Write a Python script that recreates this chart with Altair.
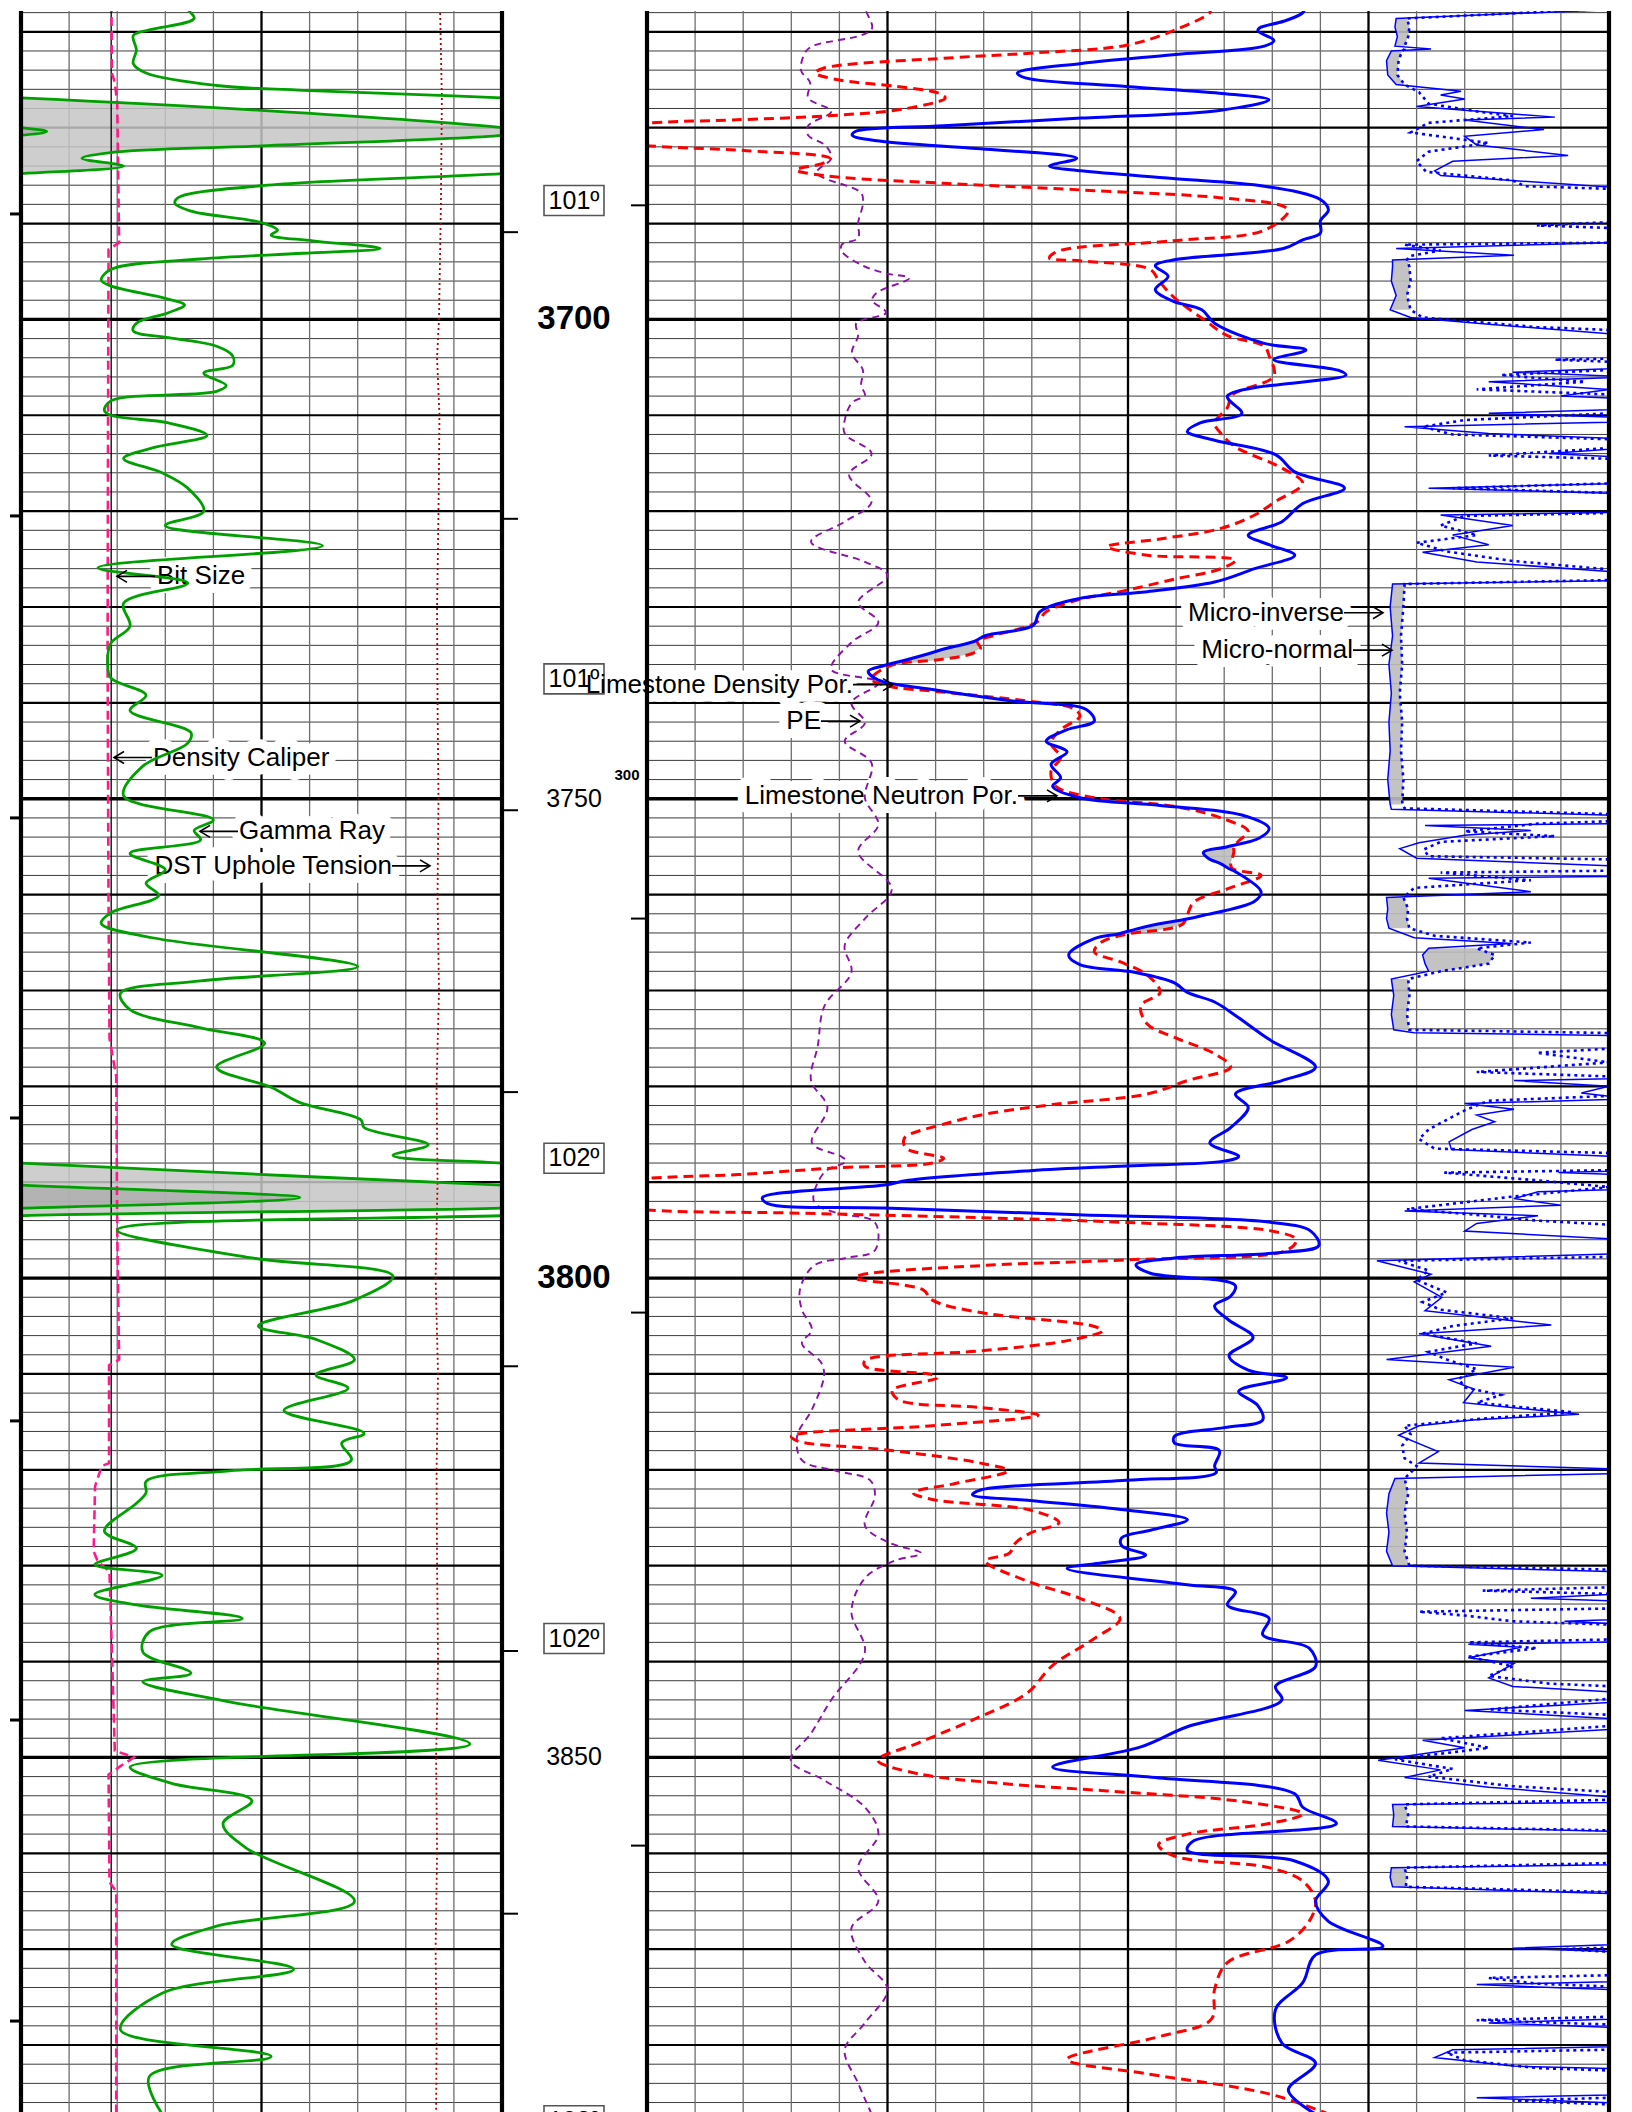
import altair as alt
import pandas as pd

FONT = "Liberation Sans"
DEPTH_TOP, DEPTH_BOT = 3667.83, 3887.3
PLOT_H = 2104
W_LEFT, W_DEPTH, W_RIGHT = 481, 145, 962

# ---------------- curve scales (track units) ----------------
GR_SCALE = [0, 150]        # API
CAL_SCALE = [6, 16]        # inches
TEN_SCALE = [0, 100]       # klb
POR_SCALE = [45, -15]      # limestone porosity %
PE_SCALE = [0, 20]         # b/e (0-10 over first half)
MIC_SCALE = [-60, 20]      # ohm-m (0-20 over last quarter)

# ---------------- data: (depth ft, value) ----------------
GR = [(3667.0, 64), (3667.5, 52), (3668.6, 54), (3669.8, 40), (3670.4, 35), (3671.9, 36), (3673.3, 35),
      (3674.3, 39), (3675.6, 61), (3676.1, 88), (3676.9, 150), (3678.2, 225), (3680.0, 300), (3680.4, 308),
      (3680.8, 300), (3681.9, 225), (3682.6, 178), (3683.2, 169), (3684.0, 182), (3684.8, 150), (3686.0, 77),
      (3687.3, 49), (3687.9, 48), (3688.7, 53), (3689.9, 75), (3690.7, 80), (3691.2, 78), (3691.8, 91),
      (3692.6, 112), (3693.1, 88), (3693.7, 56), (3694.8, 28), (3695.9, 25), (3696.5, 28), (3697.8, 45),
      (3698.5, 51), (3699.3, 46), (3700.4, 36), (3701.2, 35), (3701.9, 46), (3702.8, 61), (3703.8, 66),
      (3704.8, 66), (3705.6, 57), (3706.9, 64), (3707.5, 61), (3708.5, 28), (3709.5, 26), (3710.0, 28),
      (3710.8, 46), (3712.1, 58), (3713.4, 41), (3714.5, 32), (3716.0, 44), (3717.6, 52), (3720.0, 57),
      (3721.5, 45), (3723.6, 94), (3725.9, 24), (3727.5, 52), (3729.6, 32), (3732.0, 34), (3733.8, 28),
      (3735.8, 27), (3737.4, 28), (3739.2, 39), (3740.8, 34), (3743.1, 53), (3744.2, 52), (3746.6, 38),
      (3749.7, 32), (3752.2, 60), (3753.3, 54), (3754.3, 56), (3755.7, 34), (3757.4, 45), (3758.8, 39),
      (3760.1, 43), (3761.9, 28), (3763.0, 25), (3764.5, 41), (3767.5, 105), (3769.0, 56), (3770.3, 31),
      (3772.0, 34), (3773.9, 56), (3775.5, 76), (3778.0, 61), (3780.1, 78), (3781.7, 87), (3783.5, 106),
      (3784.3, 107), (3786.1, 127), (3787.2, 116), (3788.0, 150), (3790.3, 300), (3791.6, 387), (3792.7, 300),
      (3793.5, 150), (3795.0, 30), (3797.9, 72), (3799.8, 116), (3802.3, 104), (3805.0, 74), (3806.4, 92),
      (3808.5, 104), (3810.1, 92), (3811.5, 102), (3813.8, 82), (3816.2, 107), (3817.2, 100), (3819.0, 103),
      (3820.1, 65), (3821.2, 39), (3822.4, 39), (3823.5, 36), (3826.4, 26), (3828.2, 36), (3829.9, 23),
      (3831.0, 44), (3833.0, 23), (3834.1, 36), (3835.5, 69), (3836.9, 40), (3839.0, 38), (3841.2, 53),
      (3842.1, 38), (3844.2, 65), (3848.6, 140), (3851.0, 34), (3852.7, 47), (3854.5, 72), (3856.9, 63),
      (3859.4, 70), (3865.0, 104), (3867.6, 61), (3869.5, 47), (3872.1, 85), (3874.6, 44), (3878.4, 31),
      (3881.2, 78), (3883.3, 40), (3887.2, 44)]

CALIPER = [(3667.0, 7.88), (3674.3, 7.89), (3675.3, 7.95), (3677.4, 8.0), (3692.0, 8.04), (3692.7, 7.82),
           (3710.8, 7.81), (3735.0, 7.80), (3760.9, 7.82), (3775.0, 7.84), (3779.0, 7.98), (3794.6, 8.0),
           (3808.5, 8.04), (3809.1, 7.83), (3819.3, 7.83), (3819.6, 7.68), (3821.7, 7.54), (3828.5, 7.51),
           (3829.6, 7.6), (3830.6, 7.84), (3849.3, 7.95), (3850.0, 8.35), (3850.8, 8.1), (3851.8, 7.82),
           (3863.0, 7.84), (3864.0, 7.98), (3887.2, 7.98)]

BIT_SIZE = [(3667.0, 7.875), (3887.3, 7.875)]

TENSION = [(3667.0, 87.1), (3677.0, 87.5), (3688.0, 87.3), (3700.0, 86.9), (3704.0, 86.5), (3710.0, 87.0),
           (3720.0, 86.8), (3730.0, 86.5), (3740.0, 86.6), (3750.0, 86.8), (3760.0, 86.6), (3770.0, 86.9),
           (3780.0, 86.4), (3790.0, 86.6), (3800.0, 86.2), (3810.0, 86.7), (3820.0, 86.4), (3830.0, 86.5),
           (3840.0, 86.7), (3850.0, 86.3), (3860.0, 86.5), (3870.0, 86.2), (3880.0, 86.4), (3887.2, 86.3)]

PE = [(3667.0, 4.64), (3667.3, 4.53), (3669.6, 4.68), (3670.3, 4.49), (3671.4, 3.49), (3672.0, 3.31),
      (3674.0, 3.20), (3675.3, 3.39), (3676.9, 3.35), (3678.3, 3.83), (3679.8, 3.35), (3680.8, 3.35),
      (3681.9, 3.72), (3683.2, 3.83), (3684.7, 3.53), (3686.8, 4.45), (3687.9, 4.49), (3689.9, 4.39),
      (3691.5, 4.39), (3692.2, 4.05), (3692.9, 4.05), (3694.4, 4.49), (3695.2, 4.97), (3695.7, 5.45),
      (3697.2, 4.78), (3698.0, 4.68), (3699.3, 4.97), (3700.4, 4.35), (3701.7, 4.39), (3703.5, 4.26),
      (3705.3, 4.49), (3706.9, 4.45), (3707.9, 4.53), (3708.7, 4.26), (3710.3, 4.12), (3711.9, 4.11),
      (3714.0, 4.67), (3716.2, 4.20), (3719.0, 4.67), (3721.1, 4.11), (3723.2, 3.41), (3725.3, 4.53),
      (3726.7, 5.0), (3729.5, 4.39), (3731.6, 4.81), (3733.7, 4.25), (3736.5, 3.83), (3737.9, 4.81),
      (3740.0, 4.25), (3742.1, 4.53), (3744.0, 4.11), (3746.3, 4.67), (3749.9, 4.53), (3752.7, 4.81),
      (3755.5, 4.39), (3759.4, 5.09), (3762.5, 4.53), (3765.3, 4.11), (3768.1, 4.25), (3771.6, 3.69),
      (3775.8, 3.55), (3779.4, 3.41), (3782.2, 3.75), (3785.9, 3.43), (3787.3, 4.03), (3787.8, 4.14),
      (3789.0, 3.68), (3792.0, 3.47), (3793.2, 3.93), (3794.2, 4.74), (3797.1, 4.74), (3797.9, 4.14),
      (3798.7, 3.47), (3801.2, 3.18), (3803.3, 3.22), (3805.4, 3.43), (3806.8, 3.22), (3808.8, 3.62),
      (3810.2, 3.68), (3813.7, 3.43), (3816.5, 3.12), (3819.0, 3.22), (3820.1, 3.93), (3821.1, 4.64),
      (3822.7, 4.74), (3825.8, 4.53), (3827.6, 5.03), (3828.7, 5.70), (3829.5, 5.14), (3831.3, 4.53),
      (3834.8, 4.25), (3839.0, 4.53), (3844.0, 3.83), (3847.5, 3.41), (3850.3, 2.99), (3852.4, 3.69),
      (3855.2, 4.53), (3858.0, 4.81), (3861.5, 4.39), (3865.0, 4.81), (3867.8, 4.25), (3871.3, 4.53),
      (3874.2, 5.0), (3877.7, 4.53), (3880.5, 4.11), (3884.0, 4.39), (3887.2, 4.67)]

# neutron / density crossover patches: (patch, depth, neutron %, density %)
POR_PAIRS = [("A", 3733.6, 24.6, 24.4), ("A", 3734.3, 26.3, 24.2), ("A", 3734.9, 27.5, 24.8),
             ("A", 3735.5, 28.8, 26.8), ("A", 3736.1, 30.2, 29.8),
             ("B", 3755.0, 8.8, 8.4), ("B", 3755.6, 10.3, 8.4), ("B", 3756.2, 10.0, 8.5),
             ("B", 3756.8, 9.2, 8.6), ("B", 3757.3, 8.7, 8.5),
             ("C", 3762.6, 11.5, 11.4), ("C", 3763.1, 13.2, 11.6), ("C", 3763.6, 14.5, 12.6),
             ("C", 3764.1, 15.6, 15.0)]

NPHI = [(3667.0, 3.9), (3668.0, 4.1), (3668.9, 5.3), (3669.6, 6.8), (3669.9, 6.9), (3670.9, 5.9), (3671.5, 6.5),
        (3672.4, 12.2), (3673.3, 17.9), (3674.3, 21.9), (3674.8, 21.4), (3675.7, 15.1), (3676.4, 9.3),
        (3677.1, 6.2), (3678.2, 9.3), (3679.0, 17.9), (3679.8, 26.5), (3680.4, 32.0), (3680.8, 32.2),
        (3681.4, 30.5), (3682.1, 25.1), (3683.2, 18.2), (3684.0, 19.9), (3684.5, 17.9), (3685.3, 12.2),
        (3686.1, 6.5), (3687.5, 3.0), (3688.6, 2.5), (3689.7, 3.0), (3691.0, 3.0), (3691.7, 4.1), (3692.6, 5.3),
        (3693.8, 12.2), (3694.4, 13.3), (3695.5, 12.5), (3696.9, 13.3), (3698.1, 12.2), (3699.0, 10.4),
        (3700.4, 9.6), (3702.5, 6.5), (3703.2, 3.9), (3704.2, 5.9), (3705.3, 1.9), (3705.8, 1.4), (3708.0, 8.8),
        (3709.8, 7.9), (3710.8, 10.5), (3711.7, 11.3), (3712.6, 9.6), (3714.1, 5.8), (3715.9, 4.6),
        (3717.6, 1.5), (3719.2, 4.1), (3721.1, 5.4), (3722.5, 7.5), (3723.5, 6.2), (3724.6, 4.6), (3726.0, 7.1),
        (3727.4, 9.6), (3728.4, 13.8), (3729.1, 18.0), (3730.5, 20.5), (3731.9, 20.9), (3733.0, 23.9),
        (3736.7, 31.2), (3737.6, 30.6), (3738.6, 27.2), (3739.8, 22.2), (3740.7, 17.6), (3741.9, 17.1),
        (3742.8, 18.8), (3744.0, 20.1), (3745.1, 18.8), (3746.4, 19.8), (3747.8, 19.2), (3748.7, 19.7),
        (3749.9, 18.0), (3750.7, 13.0), (3751.7, 7.9), (3753.1, 6.2), (3754.1, 6.8), (3757.6, 8.3),
        (3759.7, 6.7), (3760.7, 7.1), (3762.2, 10.4), (3764.6, 17.1), (3766.3, 18.7), (3767.3, 18.0),
        (3768.1, 14.6), (3769.2, 12.1), (3770.2, 11.3), (3771.2, 9.6), (3772.6, 8.3), (3775.1, 6.2),
        (3778.0, 3.3), (3779.4, 5.4), (3780.8, 8.3), (3782.2, 7.5), (3784.3, 8.6), (3785.9, 9.9), (3787.3, 8.1),
        (3787.8, 9.0), (3788.3, 15.1), (3788.8, 21.1), (3789.8, 28.7), (3790.3, 30.2), (3791.6, 37.8),
        (3792.2, 37.5), (3792.7, 30.2), (3793.4, 18.1), (3794.2, 6.0), (3795.1, 3.6), (3796.6, 3.1),
        (3797.4, 6.0), (3797.9, 12.1), (3798.6, 14.5), (3799.5, 13.6), (3800.3, 9.0), (3800.8, 8.3),
        (3801.9, 8.6), (3802.9, 9.6), (3804.4, 8.7), (3806.2, 7.2), (3808.1, 8.7), (3809.6, 7.5), (3810.4, 5.1),
        (3811.8, 8.1), (3813.3, 6.9), (3814.8, 6.6), (3815.6, 9.0), (3816.5, 12.1), (3817.2, 12.1),
        (3818.0, 9.3), (3819.6, 9.6), (3820.3, 9.5), (3821.1, 15.1), (3822.1, 24.2), (3822.6, 24.7),
        (3823.2, 21.1), (3824.2, 15.1), (3825.2, 11.3), (3826.3, 13.6), (3827.1, 15.4), (3827.9, 15.4),
        (3828.9, 13.9), (3829.7, 16.6), (3830.3, 18.8), (3832.0, 11.3), (3832.7, 8.3), (3834.1, 8.8),
        (3835.5, 6.2), (3837.2, 6.6), (3838.6, 3.7), (3840.5, 3.3), (3842.6, 5.8), (3844.0, 5.4),
        (3846.8, 11.3), (3848.9, 14.2), (3851.0, 19.7), (3852.1, 13.3), (3853.8, 4.6), (3855.2, 4.1),
        (3856.9, 2.0), (3858.7, 10.9), (3859.7, 11.3), (3860.8, 4.6), (3862.9, 2.5), (3865.0, 3.3),
        (3867.1, 2.5), (3869.7, -0.9), (3870.6, 3.3), (3873.5, 4.1), (3876.3, 5.8), (3879.8, 5.4),
        (3881.9, 3.3), (3884.7, 5.0), (3887.2, 3.3)]

DPHI = [(3667.0, 14.2), (3667.7, 9.9), (3668.0, 9.9), (3669.9, 12.2), (3671.4, 15.1), (3672.2, 20.8),
        (3672.7, 25.9), (3673.8, 34.0), (3674.3, 34.5), (3675.0, 33.1), (3675.7, 29.4), (3676.4, 26.8),
        (3676.9, 26.4), (3678.0, 28.8), (3678.7, 33.1), (3679.2, 39.7), (3679.5, 44.8), (3680.7, 52.0),
        (3681.9, 44.8), (3682.4, 38.8), (3683.2, 33.6), (3683.7, 34.0), (3684.4, 35.7), (3685.0, 34.0),
        (3685.8, 26.5), (3686.5, 17.9), (3687.3, 9.3), (3688.2, 5.3), (3688.7, 5.0), (3690.7, 6.5),
        (3691.8, 12.2), (3692.9, 19.4), (3693.6, 19.9), (3693.9, 17.9), (3694.8, 13.6), (3695.9, 13.1),
        (3697.6, 12.2), (3700.1, 10.2), (3701.7, 8.8), (3702.8, 6.5), (3703.8, 6.2), (3705.9, 5.9),
        (3707.9, 8.5), (3709.2, 8.8), (3710.8, 9.6), (3711.9, 9.2), (3713.3, 8.3), (3715.5, 5.4), (3717.1, 4.1),
        (3719.0, 5.8), (3720.4, 7.1), (3721.8, 9.2), (3722.9, 13.0), (3723.7, 16.3), (3724.6, 13.8),
        (3725.1, 8.3), (3726.0, 9.2), (3727.1, 12.1), (3728.4, 15.5), (3729.2, 18.0), (3730.5, 20.1),
        (3731.6, 20.7), (3733.0, 23.4), (3737.5, 31.0), (3738.2, 30.1), (3738.9, 26.4), (3739.8, 21.3),
        (3740.6, 18.4), (3741.4, 18.0), (3742.8, 19.2), (3744.2, 19.8), (3745.7, 19.2), (3747.1, 19.8),
        (3748.7, 19.5), (3749.9, 17.1), (3750.8, 12.1), (3752.0, 9.2), (3753.4, 7.5), (3754.4, 8.1),
        (3758.0, 6.7), (3759.4, 8.8), (3760.8, 10.9), (3765.0, 16.7), (3766.0, 17.1), (3767.0, 15.5),
        (3768.4, 13.8), (3770.2, 13.0), (3771.6, 14.2), (3773.5, 13.8), (3774.9, 12.1), (3776.6, 9.6),
        (3778.0, 8.6), (3779.4, 11.3), (3780.8, 13.8), (3781.9, 19.7), (3782.9, 23.9), (3783.9, 26.4),
        (3785.3, 28.9), (3785.9, 29.0), (3786.6, 28.7), (3787.5, 26.5), (3788.0, 27.2), (3788.5, 33.2),
        (3789.2, 39.3), (3789.6, 45.0), (3791.2, 55.0), (3792.9, 45.0), (3793.2, 36.3), (3793.7, 24.2),
        (3794.2, 15.1), (3795.1, 6.0), (3796.0, 4.5), (3797.1, 5.1), (3798.1, 15.1), (3798.7, 24.2),
        (3799.7, 31.7), (3800.0, 32.0), (3801.2, 27.8), (3802.3, 27.2), (3803.6, 24.2), (3805.0, 17.2),
        (3805.5, 16.6), (3806.5, 18.7), (3807.6, 24.2), (3808.6, 31.4), (3809.2, 31.4), (3810.1, 27.2),
        (3810.4, 26.9), (3811.7, 29.7), (3812.7, 29.3), (3813.5, 24.2), (3814.3, 20.6), (3815.4, 27.2),
        (3816.5, 36.0), (3817.0, 35.6), (3817.9, 30.2), (3819.3, 24.2), (3820.1, 22.5), (3821.4, 25.7),
        (3822.4, 28.4), (3823.1, 27.2), (3824.2, 21.1), (3825.5, 19.3), (3826.6, 21.1), (3827.6, 22.0),
        (3828.7, 22.4), (3829.5, 23.9), (3831.6, 21.3), (3833.4, 18.0), (3835.5, 15.5), (3837.6, 17.1),
        (3840.4, 19.7), (3843.3, 21.3), (3846.1, 24.7), (3848.5, 28.1), (3850.3, 30.6), (3851.7, 28.1),
        (3852.7, 23.0), (3853.5, 16.3), (3854.6, 7.9), (3855.9, 4.1), (3856.9, 6.2), (3858.0, 11.3),
        (3859.1, 13.1), (3860.3, 12.1), (3861.5, 6.2), (3862.9, 4.1), (3865.0, 3.3), (3867.1, 3.7),
        (3869.2, 5.0), (3871.4, 8.8), (3874.2, 9.6), (3877.3, 9.8), (3879.1, 13.0), (3881.5, 18.8),
        (3883.0, 13.8), (3885.1, 6.2), (3887.2, 2.5)]

# microlog mudcake zones: (zone, depth, micro-inverse, micro-normal)
MICRO_PAIRS = [(1, 3668.6, 2.3, 3.2), (1, 3669.5, 2.2, 3.4), (1, 3670.5, 2.4, 3.3), (1, 3671.5, 2.2, 3.0),
               (2, 3672.0, 1.9, 2.8), (2, 3673.0, 1.5, 2.5), (2, 3674.5, 1.6, 2.4), (2, 3675.5, 2.3, 3.0),
               (3, 3693.8, 2.0, 3.2), (3, 3694.5, 2.0, 3.4), (3, 3696.0, 1.9, 3.5), (3, 3697.5, 2.3, 3.2),
               (3, 3699.0, 1.8, 3.5),
               (4, 3727.6, 2.0, 3.0), (4, 3730.0, 1.8, 2.9), (4, 3733.0, 2.0, 2.7), (4, 3736.0, 1.7, 2.8),
               (4, 3739.0, 1.9, 2.6), (4, 3742.0, 1.7, 2.8), (4, 3745.0, 1.8, 2.7), (4, 3748.0, 1.6, 2.9),
               (4, 3750.6, 1.8, 2.8),
               (5, 3760.3, 1.5, 2.9), (5, 3761.5, 1.6, 3.3), (5, 3762.5, 1.5, 3.2), (5, 3763.5, 1.7, 3.4),
               (6, 3765.6, 5.0, 9.0), (6, 3766.3, 4.5, 10.5), (6, 3767.2, 4.7, 10.0), (6, 3768.0, 5.0, 6.0),
               (7, 3768.8, 1.9, 3.3), (7, 3770.5, 2.1, 3.4), (7, 3772.5, 1.9, 3.2), (7, 3774.1, 2.1, 3.4),
               (8, 3820.9, 2.2, 3.0), (8, 3822.5, 1.7, 3.3), (8, 3824.5, 1.5, 3.0), (8, 3826.5, 1.7, 3.2),
               (8, 3828.5, 1.5, 3.0), (8, 3830.0, 2.0, 3.4),
               (9, 3854.9, 2.0, 3.0), (9, 3856.0, 2.1, 3.3), (9, 3857.2, 2.0, 3.1),
               (10, 3861.5, 1.9, 3.0), (10, 3862.5, 1.8, 3.2), (10, 3863.5, 2.0, 3.1)]

MINV = [(3667.0, 25), (3667.7, 20), (3671.8, 5.2), (3676.2, 7.7), (3676.6, 6.0), (3677.0, 8.0), (3677.8, 4.0),
        (3678.9, 15.5), (3679.2, 8.0), (3680.2, 14.6), (3680.9, 8.0), (3681.8, 9.0), (3682.9, 16.6),
        (3683.5, 7.0), (3684.5, 5.5), (3685.0, 6.0), (3686.2, 20), (3686.6, 28), (3691.6, 28), (3692.0, 20),
        (3692.6, 2.3), (3693.3, 12.1), (3699.8, 3.5), (3700.5, 10), (3701.5, 20), (3702.0, 28), (3704.8, 28),
        (3705.5, 12), (3706.0, 22), (3706.5, 10), (3707.3, 20), (3708.0, 16), (3708.6, 28), (3709.1, 28),
        (3709.8, 10), (3710.5, 28), (3711.2, 3.0), (3711.9, 10), (3712.8, 28), (3714.0, 15), (3714.8, 28),
        (3716.9, 28), (3717.6, 5), (3718.4, 28), (3720.0, 28), (3720.4, 6), (3721.5, 12), (3722.5, 7),
        (3723.5, 10), (3724.3, 4.5), (3725.3, 9), (3726.3, 20), (3727.1, 28),
        (3751.1, 1.9), (3751.7, 19.6), (3752.0, 28), (3752.5, 28), (3752.8, 4.7), (3753.3, 13.5),
        (3753.8, 8.0), (3754.6, 4.2), (3755.2, 2.6), (3756.2, 4.0), (3757.0, 20), (3757.6, 28), (3758.1, 20),
        (3758.3, 5.0), (3759.7, 13.5), (3764.5, 3.8), (3765.1, 11.9),
        (3774.4, 3.8), (3774.7, 20), (3775.0, 28), (3779.0, 28), (3779.4, 12.1), (3780.0, 20), (3780.7, 17.7),
        (3781.3, 22), (3781.8, 8.0), (3782.4, 12.1), (3783.0, 9.0), (3783.7, 10.5), (3784.5, 8.6),
        (3785.8, 6.7), (3786.6, 6.9), (3787.3, 20), (3787.6, 28), (3788.6, 28), (3789.0, 15.8), (3789.5, 28),
        (3790.5, 28), (3791.0, 14.1), (3791.7, 12.1), (3792.4, 16), (3793.0, 3.0), (3793.5, 14.1),
        (3794.3, 9.0), (3795.1, 8.0), (3795.9, 20), (3796.2, 28), (3797.3, 28), (3797.5, 20), (3798.2, 0.7),
        (3799.6, 5.2), (3800.4, 3.8), (3802.0, 6.1), (3803.4, 4.7), (3804.9, 15.2), (3805.8, 4.2),
        (3807.1, 10.2), (3808.5, 1.5), (3809.3, 12.1), (3810.6, 6.7), (3811.6, 8.8), (3813.0, 7.9),
        (3814.2, 17.5), (3814.8, 8.6), (3815.4, 4.2), (3816.4, 2.5), (3818.1, 5.8), (3819.3, 4.2),
        (3819.9, 20), (3820.1, 28), (3820.4, 20),
        (3830.6, 20), (3831.0, 28), (3832.5, 28), (3833.4, 13.5), (3834.0, 28), (3835.3, 28), (3835.8, 16.3),
        (3836.5, 28), (3837.8, 28), (3838.2, 8.3), (3838.5, 12.7), (3839.6, 8.3), (3840.2, 12.1),
        (3841.7, 10.0), (3842.6, 12), (3843.7, 28), (3845.1, 8), (3846.5, 28), (3848.2, 4.5), (3849.0, 8),
        (3850.3, 0.8), (3851.3, 6), (3852.1, 3), (3853.1, 10), (3854.1, 20), (3854.6, 28),
        (3857.7, 20), (3858.3, 28), (3860.8, 28), (3861.2, 20),
        (3864.2, 20), (3865.0, 28), (3869.2, 28), (3869.9, 12), (3870.6, 28), (3873.2, 28), (3873.7, 9),
        (3874.6, 28), (3877.0, 28), (3877.7, 10), (3878.5, 28), (3880.0, 28), (3880.5, 7), (3881.3, 5.5),
        (3882.2, 12), (3882.7, 28), (3885.0, 28), (3885.5, 9), (3886.4, 28), (3887.2, 28)]

MNOR = [(3667.0, 25), (3667.6, 20), (3671.8, 3.0), (3676.3, 4.2), (3677.5, 5.0), (3678.3, 9.0), (3678.8, 12.0),
        (3679.5, 5.0), (3680.5, 3.5), (3681.6, 10.0), (3682.5, 5.0), (3683.5, 4.0), (3684.6, 4.8),
        (3685.5, 12), (3686.1, 13), (3686.7, 28), (3689.4, 28), (3690.2, 14), (3690.8, 28), (3691.9, 28),
        (3692.2, 3.0), (3692.8, 6.0), (3693.4, 3.4), (3699.8, 4.5), (3700.8, 14), (3701.5, 28), (3703.9, 28),
        (3704.2, 15.5), (3704.8, 28), (3705.8, 11), (3706.5, 18), (3707.3, 9), (3708.2, 28), (3709.3, 28),
        (3709.8, 20), (3710.5, 8), (3711.2, 4.5), (3712.0, 7), (3712.8, 28), (3714.2, 10), (3714.8, 28),
        (3716.8, 28), (3717.6, 7), (3718.4, 28), (3720.0, 28), (3720.5, 8), (3721.5, 6), (3722.5, 9),
        (3723.3, 4.0), (3724.2, 6.5), (3725.2, 12), (3726.3, 22), (3727.0, 28),
        (3751.0, 3.0), (3751.6, 20), (3752.0, 28), (3752.6, 14.1), (3753.4, 8), (3753.9, 15.5), (3754.5, 6.0),
        (3755.3, 4.6), (3756.0, 5.0), (3756.5, 28), (3757.4, 28), (3757.7, 6.0), (3758.5, 13.5),
        (3759.3, 3.8), (3764.3, 5.5), (3765.0, 13.5),
        (3774.6, 28), (3775.5, 28), (3776.5, 14), (3777.5, 20), (3778.5, 9), (3779.3, 28), (3780.6, 28),
        (3781.5, 10), (3782.5, 8), (3783.5, 6.5), (3784.5, 5), (3785.5, 4.2), (3786.5, 5.5), (3787.2, 28),
        (3788.6, 28), (3789.0, 6.3), (3789.8, 14), (3790.5, 20), (3791.5, 12), (3792.8, 3.2), (3793.3, 8),
        (3794.0, 14), (3795.0, 28), (3797.6, 28), (3798.2, 2.5), (3799.2, 5.0), (3800.2, 4.0), (3801.5, 6.5),
        (3802.5, 4.5), (3803.3, 6.0), (3804.2, 12), (3805.0, 7), (3805.8, 4.5), (3806.8, 9), (3807.7, 5.0),
        (3808.5, 6.5), (3809.5, 9), (3810.5, 7.5), (3811.4, 8.0), (3812.2, 11), (3813.0, 9), (3814.0, 17),
        (3814.6, 10), (3815.4, 3.0), (3816.3, 3.5), (3817.5, 2.8), (3818.8, 3.0), (3819.6, 4.0), (3820.3, 3.5),
        (3830.6, 28), (3832.0, 28), (3832.6, 9.5), (3833.2, 28), (3834.3, 28), (3834.8, 4.2), (3835.2, 8),
        (3835.8, 12), (3836.5, 28), (3837.5, 28), (3838.0, 8.3), (3838.6, 14), (3839.5, 8.3), (3840.5, 12),
        (3841.5, 10), (3842.3, 15), (3843.0, 28), (3845.0, 10), (3846.0, 28), (3848.0, 6), (3849.0, 10),
        (3850.2, 2.2), (3851.2, 7), (3852.0, 5), (3853.0, 12), (3854.2, 28),
        (3857.8, 28), (3860.8, 28),
        (3864.3, 28), (3869.5, 28), (3870.0, 16), (3870.8, 28), (3872.5, 28), (3873.0, 10), (3873.6, 14),
        (3874.3, 28), (3876.8, 28), (3877.4, 9.0), (3878.2, 28), (3880.3, 28), (3880.8, 6.5), (3881.6, 8),
        (3882.4, 14), (3883.0, 28), (3885.2, 28), (3885.8, 12), (3886.6, 28), (3887.2, 28)]

# ---------------- depth track annotations ----------------
DEPTH_MARKS = [3700, 3750, 3800, 3850]
TEMP_TEXT = ["101º", "101º", "102º", "102º", "102º"]
TEMP_DEPTHS = [3687.6, 3737.5, 3787.5, 3837.6, 3887.9]
NOTE_TEXT, NOTE_DEPTH = "300", 3747.5
LEFT_EDGE_TICKS = [3689.0, 3720.5, 3752.0, 3783.3, 3814.9, 3846.1, 3877.5]
DEPTH_TICKS_L = [3690.9, 3720.8, 3751.2, 3780.6, 3809.2, 3838.9, 3866.3]
DEPTH_TICKS_R = [3688.1, 3762.5, 3803.6, 3859.2]

LEFT_LABELS = ["Bit Size", "Density Caliper", "Gamma Ray", "DST Uphole Tension"]
LEFT_LABEL_DEPTHS = [3726.8, 3745.7, 3753.4, 3757.0]
RIGHT_LABELS = ["Limestone Density Por.", "PE", "Limestone Neutron Por.", "Micro-inverse", "Micro-normal"]
RIGHT_LABEL_DEPTHS = [3738.1, 3741.9, 3749.7, 3730.6, 3734.5]

GRID_DEPTHS = list(range(3668, 3888, 2))

# ---------------- frames ----------------
def frame(points, col):
    return pd.DataFrame(points, columns=["depth", col]).sort_values("depth")

gr_df = frame(GR, "gr")
cal_df = frame(CALIPER, "cal")
bit_df = frame(BIT_SIZE, "bit")
ten_df = frame(TENSION, "ten")
pe_df = frame(PE, "pe")
por_pairs = pd.DataFrame(POR_PAIRS, columns=["patch", "depth", "nphi", "dphi"])
nphi_df = pd.concat([frame(NPHI, "nphi"), por_pairs[["depth", "nphi"]]]).sort_values("depth")
dphi_df = pd.concat([frame(DPHI, "dphi"), por_pairs[["depth", "dphi"]]]).sort_values("depth")
mic_pairs = pd.DataFrame(MICRO_PAIRS, columns=["zone", "depth", "minv", "mnor"])
minv_df = pd.concat([frame(MINV, "minv"), mic_pairs[["depth", "minv"]]]).sort_values("depth")
mnor_df = pd.concat([frame(MNOR, "mnor"), mic_pairs[["depth", "mnor"]]]).sort_values("depth")

YS = alt.Scale(domain=[DEPTH_TOP, DEPTH_BOT], reverse=True, nice=False, zero=False)


def yenc():
    return alt.Y("depth:Q", scale=YS, axis=None)


def xenc(field, domain):
    return alt.X(f"{field}:Q", scale=alt.Scale(domain=domain, nice=False, zero=False), axis=None, stack=None)


def curve(df, field, domain, color, width, dash=None, interp="linear"):
    kw = dict(color=color, strokeWidth=width, clip=True, interpolate=interp)
    if dash:
        kw["strokeDash"] = dash
    return alt.Chart(df).mark_line(**kw).encode(x=xenc(field, domain), y=yenc(), order="depth:Q")


def grid(ndiv):
    v = pd.DataFrame({"div": list(range(ndiv + 1))})
    h = pd.DataFrame({"depth": GRID_DEPTHS})
    xs = alt.Scale(domain=[0, ndiv], nice=False, zero=False)
    minor_h = alt.Chart(h).transform_filter("datum.depth % 10 != 0").mark_rule(
        color="#3c3c3c", strokeWidth=1).encode(y=yenc())
    minor_v = alt.Chart(v).transform_filter("datum.div % 5 != 0").mark_rule(
        color="#6e6e6e", strokeWidth=1.3).encode(x=alt.X("div:Q", scale=xs, axis=None))
    ten_h = alt.Chart(h).transform_filter("datum.depth % 10 == 0 && datum.depth % 50 != 0").mark_rule(
        color="black", strokeWidth=2.2).encode(y=yenc())
    fifty_h = alt.Chart(h).transform_filter("datum.depth % 50 == 0").mark_rule(
        color="black", strokeWidth=3.4).encode(y=yenc())
    heavy_v = alt.Chart(v).transform_filter(f"datum.div % 5 == 0 && datum.div > 0 && datum.div < {ndiv}").mark_rule(
        color="black", strokeWidth=2.3).encode(x=alt.X("div:Q", scale=xs, axis=None))
    border = alt.Chart(v).transform_filter(f"datum.div == 0 || datum.div == {ndiv}").mark_rule(
        color="black", strokeWidth=4.2).encode(x=alt.X("div:Q", scale=xs, axis=None))
    return [minor_h, minor_v, ten_h, fifty_h, heavy_v], border


def label_parts(text, depth, tx, align, tail, tip):
    df = pd.DataFrame({"depth": [depth], "label": [text]})
    base = alt.Chart(df)
    halo = base.mark_text(align=align, baseline="middle", font=FONT, fontSize=26, color="white",
                          stroke="white", strokeWidth=18, strokeJoin="round", clip=True).encode(
        x=alt.value(tx), y=yenc(), text="label:N")
    txt = base.mark_text(align=align, baseline="middle", font=FONT, fontSize=26, color="black").encode(
        x=alt.value(tx), y=yenc(), text="label:N")
    shaft = base.mark_rule(color="black", strokeWidth=1.6).encode(x=alt.value(tail), x2=alt.value(tip), y=yenc())
    if tip < tail:
        shape, cx = "M1,-1.2L-1,0L1,1.2", tip + 5
    else:
        shape, cx = "M-1,-1.2L1,0L-1,1.2", tip - 5
    head = base.mark_point(shape=shape, size=100, filled=False, color="black", strokeWidth=1.6,
                           opacity=1).encode(x=alt.value(cx), y=yenc())
    return [halo], [txt], [shaft, head]


# ---------------- left track ----------------
lgrid, lborder = grid(10)
edge_ticks = alt.Chart(pd.DataFrame({"depth": LEFT_EDGE_TICKS})).mark_rule(
    color="black", strokeWidth=3).encode(x=alt.value(-11), x2=alt.value(0), y=yenc())

left_layout = [(136, "left", 134, 96), (132, "left", 131, 93), (218, "left", 217, 179), (371, "right", 371, 409)]
lhalos, ltexts, larrows = [], [], []
for t, d, (tx, al, tail, tip) in zip(LEFT_LABELS, LEFT_LABEL_DEPTHS, left_layout):
    a, b, c = label_parts(t, d, tx, al, tail, tip)
    lhalos += a; ltexts += b; larrows += c

SMOOTH = "catmull-rom"
gr_shade1 = alt.Chart(gr_df).transform_calculate(w1="datum.gr - 150").mark_area(
    orient="horizontal", clip=True, color="#c6c6c6", opacity=0.85, interpolate=SMOOTH).encode(
    x=xenc("w1", GR_SCALE), x2=alt.datum(0), y=yenc())
gr_shade2 = alt.Chart(gr_df).transform_calculate(w2="datum.gr - 300").mark_area(
    orient="horizontal", clip=True, color="#a8a8a8", opacity=0.7, interpolate=SMOOTH).encode(
    x=xenc("w2", GR_SCALE), x2=alt.datum(0), y=yenc())
gr_wrap1 = alt.Chart(gr_df).transform_calculate(w1="datum.gr - 150").mark_line(
    color="#00a000", strokeWidth=2.8, clip=True, interpolate=SMOOTH).encode(
    x=xenc("w1", GR_SCALE), y=yenc(), order="depth:Q")
gr_wrap2 = alt.Chart(gr_df).transform_calculate(w2="datum.gr - 300").mark_line(
    color="#00a000", strokeWidth=2.8, clip=True, interpolate=SMOOTH).encode(
    x=xenc("w2", GR_SCALE), y=yenc(), order="depth:Q")

left_layers = (lgrid + lhalos + ltexts + [gr_shade1, gr_shade2,
               curve(ten_df, "ten", TEN_SCALE, "#b40000", 1.8, [2, 3]),
               curve(bit_df, "bit", CAL_SCALE, "black", 1.3),
               curve(cal_df, "cal", CAL_SCALE, "#ff1a8c", 2.6, [9, 5]),
               curve(gr_df, "gr", GR_SCALE, "#00a000", 2.8, interp=SMOOTH),
               gr_wrap1, gr_wrap2] + larrows + [lborder, edge_ticks])
left = alt.layer(*left_layers).resolve_scale(x="independent").properties(width=W_LEFT, height=PLOT_H)

# ---------------- depth track ----------------
dm = pd.DataFrame({"depth": DEPTH_MARKS, "label": [str(v) for v in DEPTH_MARKS]})
dm["big"] = dm["depth"] % 100 == 0
temps = pd.DataFrame({"depth": TEMP_DEPTHS, "label": TEMP_TEXT})
note = pd.DataFrame({"depth": [NOTE_DEPTH], "label": [NOTE_TEXT]})
tl = pd.DataFrame({"depth": DEPTH_TICKS_L})
tr = pd.DataFrame({"depth": DEPTH_TICKS_R})

depth_layers = [
    alt.Chart(tl).mark_rule(color="black", strokeWidth=2).encode(x=alt.value(0), x2=alt.value(16), y=yenc()),
    alt.Chart(tr).mark_rule(color="black", strokeWidth=2).encode(x=alt.value(129), x2=alt.value(145), y=yenc()),
    alt.Chart(temps).mark_point(shape="M-1,-0.5L1,-0.5L1,0.5L-1,0.5Z", size=3600, filled=True, fill="white",
                                stroke="#555555", strokeWidth=1.6, opacity=1).encode(x=alt.value(72), y=yenc()),
    alt.Chart(temps).mark_text(font=FONT, fontSize=25, color="black", baseline="middle", align="center").encode(
        x=alt.value(72), y=yenc(), text="label:N"),
    alt.Chart(dm).transform_filter("datum.big").mark_text(
        font=FONT, fontSize=33, fontWeight="bold", color="black", baseline="middle", align="center").encode(
        x=alt.value(72), y=yenc(), text="label:N"),
    alt.Chart(dm).transform_filter("!datum.big").mark_text(
        font=FONT, fontSize=25, color="black", baseline="middle", align="center").encode(
        x=alt.value(72), y=yenc(), text="label:N"),
    alt.Chart(note).mark_text(font=FONT, fontSize=15, fontWeight="bold", color="black", baseline="middle",
                              align="center").encode(x=alt.value(125), y=yenc(), text="label:N"),
]
depth = alt.layer(*depth_layers).properties(width=W_DEPTH, height=PLOT_H)

# ---------------- right track ----------------
rgrid, rborder = grid(20)
right_layout = [(206, "right", 206, 246), (174, "right", 174, 213), (371, "right", 371, 410),
                (697, "right", 697, 736), (706, "right", 706, 745)]
rhalos, rtexts, rarrows = [], [], []
for t, d, (tx, al, tail, tip) in zip(RIGHT_LABELS, RIGHT_LABEL_DEPTHS, right_layout):
    a, b, c = label_parts(t, d, tx, al, tail, tip)
    rhalos += a; rtexts += b; rarrows += c

por_shade = alt.Chart(por_pairs).mark_area(orient="horizontal", clip=True, color="#bdbdbd", opacity=0.9).encode(
    x=xenc("nphi", POR_SCALE), x2="dphi:Q", y=yenc(), detail="patch:N")
mic_shade = alt.Chart(mic_pairs).mark_area(orient="horizontal", clip=True, color="#bdbdbd", opacity=0.9).encode(
    x=xenc("minv", MIC_SCALE), x2="mnor:Q", y=yenc(), detail="zone:N")

right_layers = (rgrid + rhalos + rtexts + [por_shade, mic_shade,
                curve(pe_df, "pe", PE_SCALE, "#8a12a8", 1.9, [7, 5], interp=SMOOTH),
                curve(dphi_df, "dphi", POR_SCALE, "#ff0000", 3, [10, 6], interp=SMOOTH),
                curve(nphi_df, "nphi", POR_SCALE, "#0000ff", 3, interp=SMOOTH),
                curve(mnor_df, "mnor", MIC_SCALE, "#0000ff", 2.6, [3, 4]),
                curve(minv_df, "minv", MIC_SCALE, "#0000ff", 1.5)] + rarrows + [rborder])
right = alt.layer(*right_layers).resolve_scale(x="independent").properties(width=W_RIGHT, height=PLOT_H)

chart = alt.hconcat(left, depth, right, spacing=0, bounds="flush").properties(
    padding=0, background="white").configure_view(stroke=None)

chart.save("out.html", embed_options={"renderer": "svg", "actions": False})
